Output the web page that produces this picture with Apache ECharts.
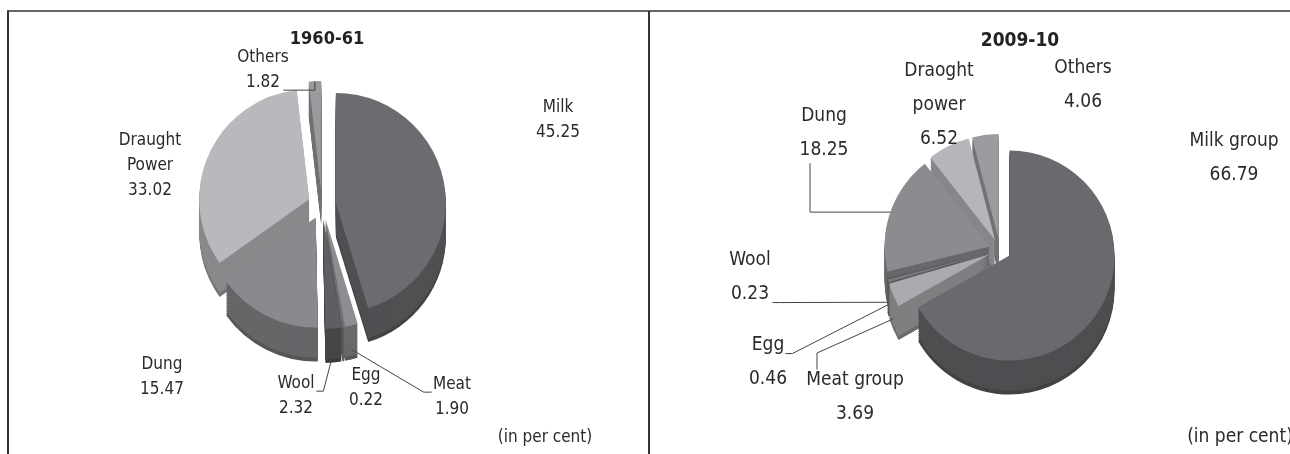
<!DOCTYPE html>
<html>
<head>
<meta charset="utf-8">
<script src="https://cdn.jsdelivr.net/npm/echarts@6/dist/echarts.min.js"></script>
<style>
  html, body { margin: 0; padding: 0; background: #fff; }
  #main { width: 1290px; height: 454px; }
</style>
</head>
<body>
<div id="main"></div>
<script>
// 1960-61
var names1 = ['Milk', 'Meat', 'Egg', 'Wool', 'Dung', 'Draught\nPower', 'Others'];
var values1 = [45.25, 1.90, 0.22, 2.32, 15.47, 33.02, 1.82];
// 2009-10
var names2 = ['Milk group', 'Meat group', 'Egg', 'Wool', 'Dung', 'Draoght\npower', 'Others'];
var values2 = [66.79, 3.69, 0.46, 0.23, 18.25, 6.52, 4.06];

var titles = ['1960-61', '2009-10'];

// 灰度配色
var colors1 = ['#6c6c70', '#8e8e92', '#77777b', '#5f5f63', '#8a8a8e', '#b9b9bd', '#9a9a9e'];
var colors2 = ['#6a6a6e', '#ababaf', '#7a7a7e', '#5a5a5e', '#8c8c90', '#b6b6ba', '#9c9ca0'];

// 标签中心位置 + 引导线方式
// none / rightTop / rightBottom / leftTop / up / down
var labelPos1 = [
    { x: 558, y: 120, line: 'none' },
    { x: 452, y: 397, line: 'leftTop' },
    { x: 366, y: 388, line: 'none' },
    { x: 296, y: 396, line: 'rightTop' },
    { x: 162, y: 377, line: 'none' },
    { x: 150, y: 166, line: 'none' },
    { x: 263, y: 70, line: 'rightBottom' }
];
var labelPos2 = [
    { x: 1234, y: 158, line: 'none' },
    { x: 855, y: 397, line: 'up' },
    { x: 768, y: 362, line: 'rightTop' },
    { x: 750, y: 277, line: 'rightBottom' },
    { x: 824, y: 133, line: 'down' },
    { x: 939, y: 105, line: 'none' },
    { x: 1083, y: 85, line: 'none' }
];

var FONT = '"DejaVu Sans Condensed", "Open Sans", sans-serif';

function darken(hex, f) {
    var n = parseInt(hex.slice(1), 16);
    var r = Math.round(((n >> 16) & 255) * f);
    var g = Math.round(((n >> 8) & 255) * f);
    var b = Math.round((n & 255) * f);
    return 'rgb(' + r + ',' + g + ',' + b + ')';
}

// 生成一个带厚度的饼图（多层叠加模拟3D）
function makePie(names, values, colors, cx, cy, radius, depth, offset) {
    var list = [];
    for (var k = depth; k >= 0; k -= 2) {
        var isTop = k === 0;
        list.push({
            type: 'pie',
            silent: !isTop,
            animation: false,
            center: [cx, cy + k],
            radius: radius,
            selectedMode: 'multiple',
            selectedOffset: offset,
            label: { show: false },
            labelLine: { show: false },
            data: values.map(function (v, i) {
                var c = isTop ? colors[i] : darken(colors[i], k > depth - 3 ? 0.62 : 0.74);
                return { name: names[i], value: v, selected: true, itemStyle: { color: c } };
            })
        });
    }
    return list;
}

// 标签文字和引导线（起点按扇区角度计算）
function makeLabels(names, values, pos, cx, cy, radius, depth, offset, fontSize, lineHeight) {
    var total = values.reduce(function (a, b) { return a + b; }, 0);
    var acc = 0;
    var els = [];
    for (var i = 0; i < values.length; i++) {
        var mid = (acc + values[i] / 2) / total * Math.PI * 2;
        acc += values[i];
        var p = pos[i];
        var txt = values[i].toFixed(2);
        els.push({
            type: 'text', z: 100,
            style: {
                x: p.x, y: p.y,
                text: names[i] + '\n' + txt,
                font: fontSize + 'px ' + FONT,
                lineHeight: lineHeight,
                fill: '#2a2a2a',
                align: 'center',
                verticalAlign: 'middle'
            }
        });
        if (p.line === 'none') continue;
        var R = radius + offset;
        var sx = cx + R * Math.sin(mid);
        var sy = cy - R * Math.cos(mid);
        if (Math.cos(mid) < 0) sy += depth * 0.7;
        var half = lineHeight / 2;
        var pts, ex, ly;
        if (p.line === 'rightTop') {
            ex = p.x + names[i].length * fontSize * 0.27 + 2;
            ly = p.y - half + fontSize * 0.45;
            pts = [[ex, ly], [ex + 7, ly], [sx, sy]];
        } else if (p.line === 'rightBottom') {
            ex = p.x + txt.length * fontSize * 0.27 + 2;
            ly = p.y + half + fontSize * 0.45;
            if (Math.abs(sx - ex) < 40) {
                pts = [[ex, ly], [sx, ly], [sx, sy]];
            } else {
                pts = [[ex, ly], [ex + 8, ly], [sx, sy]];
            }
        } else if (p.line === 'leftTop') {
            ex = p.x - names[i].length * fontSize * 0.27 - 2;
            ly = p.y - half + fontSize * 0.45;
            pts = [[ex, ly], [ex - 8, ly], [sx, sy]];
        } else if (p.line === 'up') {
            pts = [[p.x - 38, p.y - half - fontSize * 0.55], [p.x - 38, p.y - half - fontSize - 8], [sx, sy]];
        } else {
            pts = [[p.x - 14, p.y + half + fontSize * 0.7], [p.x - 14, sy], [sx, sy]];
        }
        els.push({ type: 'polyline', z: 99, shape: { points: pts },
            style: { stroke: '#444', lineWidth: 1, fill: null } });
    }
    return els;
}

var pie1 = makePie(names1, values1, colors1, 322, 205, 110, 34, 14);
var pie2 = makePie(names2, values2, colors2, 1000, 250, 105, 34, 11);
var labels1 = makeLabels(names1, values1, labelPos1, 322, 205, 110, 34, 14, 17, 25);
var labels2 = makeLabels(names2, values2, labelPos2, 1000, 250, 105, 34, 11, 19, 34);

var option = {
    backgroundColor: '#fff',
    title: [
        { text: titles[0], left: 322, top: 25, textAlign: 'center',
          textStyle: { fontFamily: FONT, fontSize: 18, fontWeight: 'bold', color: '#222' } },
        { text: titles[1], left: 1015, top: 27, textAlign: 'center',
          textStyle: { fontFamily: FONT, fontSize: 19, fontWeight: 'bold', color: '#222' } }
    ],
    graphic: [
        { type: 'line', shape: { x1: 7, y1: 11, x2: 1290, y2: 11 }, style: { stroke: '#666', lineWidth: 2 } },
        { type: 'line', shape: { x1: 8, y1: 11, x2: 8, y2: 454 }, style: { stroke: '#333', lineWidth: 2 } },
        { type: 'line', shape: { x1: 649, y1: 11, x2: 649, y2: 454 }, style: { stroke: '#333', lineWidth: 2 } },
        { type: 'text', z: 100, style: { x: 545, y: 438, text: '(in per cent)', font: '17px ' + FONT,
          fill: '#2a2a2a', align: 'center', verticalAlign: 'middle' } },
        { type: 'text', z: 100, style: { x: 1240, y: 437, text: '(in per cent)', font: '19px ' + FONT,
          fill: '#2a2a2a', align: 'center', verticalAlign: 'middle' } }
    ].concat(labels1, labels2),
    series: [].concat(pie1, pie2)
};

var chart = echarts.init(document.getElementById('main'));
chart.setOption(option);
</script>
</body>
</html>
